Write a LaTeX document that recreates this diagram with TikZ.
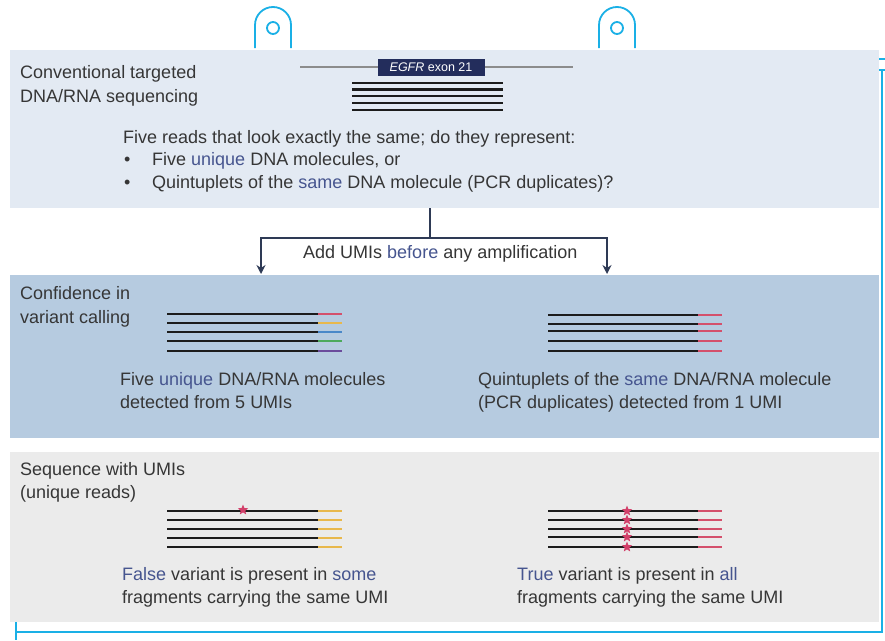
\documentclass[tikz,border=0pt]{standalone}
\usepackage{fontspec}
\setmainfont{Liberation Sans}
\usetikzlibrary{shapes.geometric,arrows.meta}
\definecolor{topc}{HTML}{E3EAF3}
\definecolor{midc}{HTML}{B6CBE0}
\definecolor{botc}{HTML}{EBEBEB}
\definecolor{txtc}{HTML}{363636}
\definecolor{hl}{HTML}{46558F}
\definecolor{arrc}{HTML}{2E3A55}
\definecolor{navyc}{HTML}{232D5C}
\definecolor{greyl}{HTML}{8C8C8C}
\definecolor{cyanc}{HTML}{1AB0E6}
\definecolor{readc}{HTML}{1C1C1C}
\definecolor{umired}{HTML}{D4506C}
\definecolor{umiyel}{HTML}{E8B84C}
\definecolor{umiblu}{HTML}{4A88C8}
\definecolor{umigrn}{HTML}{4CAA5C}
\definecolor{umipur}{HTML}{6B4C9C}
\definecolor{starc}{HTML}{D2406A}
\begin{document}
\begin{tikzpicture}[x=1pt,y=-1pt,
  txt/.style={anchor=base west, inner sep=0pt, text=txtc, font=\fontsize{18}{21}\selectfont},
  panel/.style={draw=none, inner sep=0pt, anchor=north west},
  conn/.style={draw=arrc, line width=1.6pt},
  tip/.style={-{Stealth[length=9pt,width=9pt]}},
  read/.style={draw=readc, line width=2.6pt},
  umi/.style={line width=2.6pt},
  ring/.style={draw=cyanc, line width=1.8pt},
  frame/.style={draw=cyanc, line width=1.4pt},
  vstar/.style={star, star points=5, star point ratio=2.3, fill=starc, minimum size=11pt, inner sep=0pt}]
\useasboundingbox (0,0) rectangle (885,640);
\fill[white] (0,0) rectangle (885,640);
% frame
\draw[frame] (16,622) -- (16,640);
\draw[frame] (16,632) -- (882,632) -- (882,70);
\draw[frame] (879,59) -- (885,59);
\draw[frame] (879,70) -- (885,70);
% rings
\draw[ring] (255,48) -- (255,25) arc[start angle=180, end angle=360, radius=18] -- (291,48);
\draw[ring] (273,28) circle[radius=6];
\draw[ring] (599,48) -- (599,25) arc[start angle=180, end angle=360, radius=18] -- (635,48);
\draw[ring] (617,28) circle[radius=6];
% panels
\node[panel, fill=topc, minimum width=869pt, minimum height=158pt] (p1) at (10,50) {};
\node[panel, fill=midc, minimum width=869pt, minimum height=163pt] (p2) at (10,275) {};
\node[panel, fill=botc, minimum width=869pt, minimum height=170pt] (p3) at (10,452) {};
% top panel
\node[txt] (t1a) at (20,78) {Conventional targeted};
\node[txt] (t1b) at (20,102) {DNA/RNA sequencing};
\coordinate (gl) at (300,67);
\coordinate (gr) at (573,67);
\draw[greyl, line width=1.8pt] (gl) -- (gr);
\node[fill=navyc, text=white, inner sep=0pt, minimum width=107pt, minimum height=17pt, font=\fontsize{12.5}{14}\selectfont] (egfr) at (431,67) {\textit{EGFR} exon 21};
\foreach \yy in {83,89.5,96,103,110}{\draw[read] (352,\yy) -- (503,\yy);}
\node[txt] (q0) at (123,143) {Five reads that look exactly the same; do they represent:};
\node[txt] (b1) at (124,165) {\textbullet};
\node[txt] (q1) at (152,165) {Five \textcolor{hl}{unique} DNA molecules, or};
\node[txt] (b2) at (124,188) {\textbullet};
\node[txt] (q2) at (152,188) {Quintuplets of the \textcolor{hl}{same} DNA molecule (PCR duplicates)?};
% connector
\coordinate (split) at (430,238);
\coordinate (la) at (261,274);
\coordinate (ra) at (607,274);
\draw[conn] (p1.south -| split) -- (split);
\draw[conn,tip] (split) -| (la);
\draw[conn,tip] (split) -| (ra);
\node[txt] (add) at (303,258) {Add UMIs \textcolor{hl}{before} any amplification};
% middle panel
\node[txt] (m1a) at (20,299) {Confidence in};
\node[txt] (m1b) at (20,323) {variant calling};
\foreach \yy/\cc in {314/umired,323/umiyel,332/umiblu,341/umigrn,351/umipur}{
  \draw[read] (167,\yy) -- (318,\yy);
  \draw[umi,draw=\cc] (318,\yy) -- (342,\yy);}
\foreach \yy in {315,324,331,341,351}{
  \draw[read] (548,\yy) -- (698,\yy);
  \draw[umi,draw=umired] (698,\yy) -- (722,\yy);}
\node[txt] (m2a) at (120,385) {Five \textcolor{hl}{unique} DNA/RNA molecules};
\node[txt] (m2b) at (120,408) {detected from 5 UMIs};
\node[txt] (m3a) at (478,385) {Quintuplets of the \textcolor{hl}{same} DNA/RNA molecule};
\node[txt] (m3b) at (478,408) {(PCR duplicates) detected from 1 UMI};
% bottom panel
\node[txt] (s1a) at (20,475) {Sequence with UMIs};
\node[txt] (s1b) at (20,498) {(unique reads)};
\foreach \yy in {511,520,529,538,547}{
  \draw[read] (167,\yy) -- (318,\yy);
  \draw[umi,draw=umiyel] (318,\yy) -- (342,\yy);}
\node[vstar] (st0) at (243,510) {};
\foreach \yy in {511,520,529,537,547}{
  \draw[read] (548,\yy) -- (698,\yy);
  \draw[umi,draw=umired] (698,\yy) -- (722,\yy);}
\foreach \yy [count=\i] in {511,520,529,537,547}{\node[vstar] (st\i) at (627,\yy) {};}
\node[txt] (f1) at (122,580) {\textcolor{hl}{False} variant is present in \textcolor{hl}{some}};
\node[txt] (f2) at (122,603) {fragments carrying the same UMI};
\node[txt] (r1) at (517,580) {\textcolor{hl}{True} variant is present in \textcolor{hl}{all}};
\node[txt] (r2) at (517,603) {fragments carrying the same UMI};
\end{tikzpicture}
\end{document}
